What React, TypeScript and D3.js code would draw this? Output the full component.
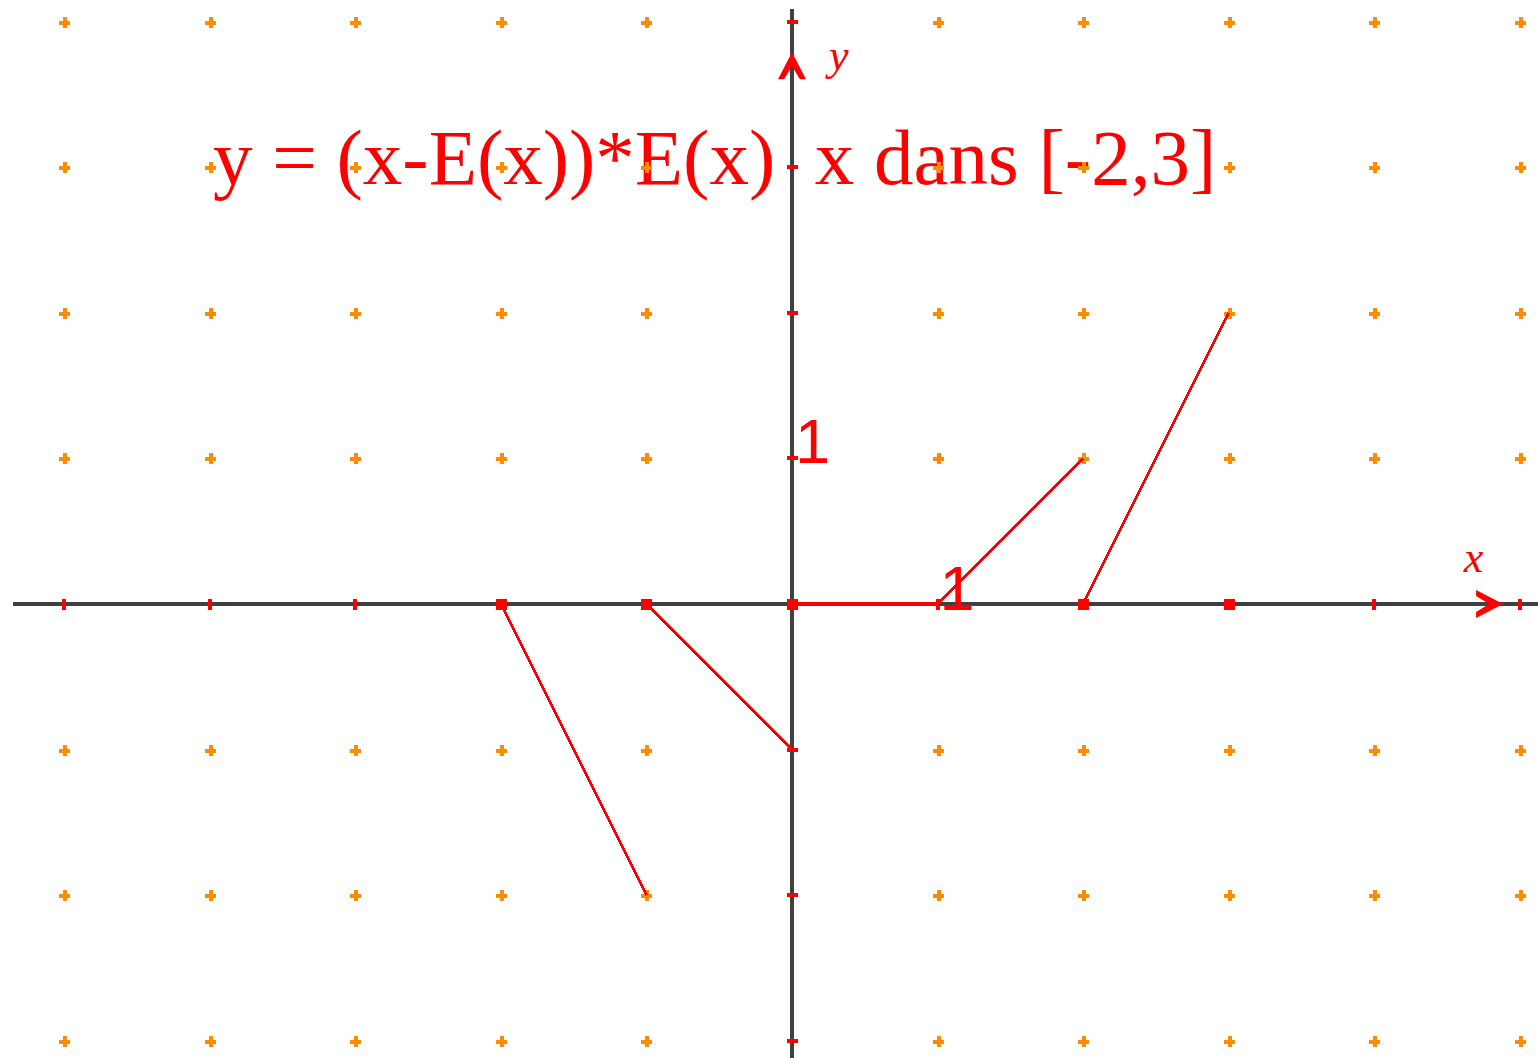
import React from "react";
import * as d3 from "d3";

// Graph of y = (x - E(x)) * E(x) on [-2, 3]
const W = 1538;
const H = 1058;

// Integer grid shown by the orange crosses and the axis ticks
const gridX = [-5, -4, -3, -2, -1, 0, 1, 2, 3, 4, 5];
const gridY = [-3, -2, -1, 0, 1, 2, 3, 4];

// Visible extent of the axes (in graph units)
const axisXRange = [-5.35, 5.3];
const axisYRange = [-3.15, 4.09];
const arrowTipX = 4.885;
const arrowTipY = 3.79;

// Pieces of the curve: start (x0, y0) -> end (x1, y1)
const segX0 = [-2, -1, 0, 1, 2];
const segY0 = [0, 0, 0, 0, 0];
const segX1 = [-1, 0, 1, 2, 3];
const segY1 = [-2, -1, 0, 1, 2];

// Closed endpoints (filled squares)
const dotX = [-2, -1, 0, 2, 3];
const dotY = [0, 0, 0, 0, 0];

// Unit labels
const unitLabelX = [{ v: 1, text: "1" }];
const unitLabelY = [{ v: 1, text: "1" }];

const title = "y = (x-E(x))*E(x)  x dans [-2,3]";

const UNIT = 145.57;
const ORIGIN_X = 792;
const ORIGIN_Y = 604;

const RED = "#ff0000";
const ORANGE = "#ff8c00";
const AXIS = "#404040";

export default function App() {
  const x = d3.scaleLinear().domain([0, 1]).range([ORIGIN_X, ORIGIN_X + UNIT]);
  const y = d3.scaleLinear().domain([0, 1]).range([ORIGIN_Y, ORIGIN_Y - UNIT]);
  const line = d3
    .line<[number, number]>()
    .x((d) => x(d[0]))
    .y((d) => y(d[1]));

  const crosses: { cx: number; cy: number; key: string }[] = [];
  gridX.forEach((gx) =>
    gridY.forEach((gy) => {
      if (gx !== 0 && gy !== 0) {
        crosses.push({ cx: Math.round(x(gx)), cy: Math.round(y(gy)), key: `${gx}_${gy}` });
      }
    })
  );

  const x0 = x(0);
  const y0 = y(0);
  const tipX = x(arrowTipX);
  const tipY = y(arrowTipY);

  // Arrowheads: short filled point with two diverging barbs
  const yArrow = `M${x0},${tipY} L${x0 + 14},${tipY + 27} L${x0 + 8},${tipY + 27} L${x0},${tipY + 14} L${x0 - 8},${tipY + 27} L${x0 - 14},${tipY + 27} Z`;
  const xArrow = `M${tipX},${y0} L${tipX - 27},${y0 - 14} L${tipX - 27},${y0 - 8} L${tipX - 14},${y0} L${tipX - 27},${y0 + 8} L${tipX - 27},${y0 + 14} Z`;

  return (
    <svg
      width={W}
      height={H}
      style={{ position: "absolute", left: 0, top: 0, background: "#fff" }}
    >
      <rect x={0} y={0} width={W} height={H} fill="#fff" />

      {/* title */}
      <text
        x={213}
        y={184}
        fill={RED}
        fontFamily="'Liberation Serif', 'Times New Roman', serif"
        fontSize={79}
        style={{ whiteSpace: "pre" }}
      >
        {title}
      </text>

      {/* grid crosses */}
      <g fill={ORANGE} shapeRendering="crispEdges">
        {crosses.map((c) => (
          <g key={c.key}>
            <rect x={c.cx - 5.5} y={c.cy - 1.5} width={11} height={4} />
            <rect x={c.cx - 1.5} y={c.cy - 5.5} width={4} height={11} />
          </g>
        ))}
      </g>

      {/* axes */}
      <g stroke={AXIS} strokeWidth={4} shapeRendering="crispEdges">
        <line x1={x(axisXRange[0])} x2={x(axisXRange[1])} y1={y0} y2={y0} />
        <line x1={x0} x2={x0} y1={y(axisYRange[1])} y2={y(axisYRange[0])} />
      </g>

      {/* ticks */}
      <g fill={RED} shapeRendering="crispEdges">
        {gridX.map((v) => (
          <rect key={"tx" + v} x={Math.round(x(v)) - 2} y={y0 - 5} width={4} height={11} />
        ))}
        {gridY.map((v) => (
          <rect key={"ty" + v} x={x0 - 5} y={Math.round(y(v)) - 2} width={11} height={4} />
        ))}
      </g>

      {/* arrowheads */}
      <path d={yArrow} fill={RED} />
      <path d={xArrow} fill={RED} />

      {/* axis names */}
      <text
        x={x(0.254)}
        y={y(3.67)}
        fill={RED}
        fontFamily="'Liberation Serif', serif"
        fontStyle="italic"
        fontSize={44}
      >
        y
      </text>
      <text
        x={x(4.615)}
        y={y(0.22)}
        fill={RED}
        fontFamily="'Liberation Serif', serif"
        fontStyle="italic"
        fontSize={44}
      >
        x
      </text>

      {/* curve pieces */}
      <g stroke={RED} fill="none">
        {segX0.map((_, i) => {
          const flat = segY0[i] === segY1[i];
          return (
            <path
              key={"s" + i}
              d={line([
                [segX0[i], segY0[i]],
                [segX1[i], segY1[i]],
              ]) as string}
              strokeWidth={flat ? 4 : 2.8}
              shapeRendering="crispEdges"
            />
          );
        })}
      </g>

      {/* closed endpoints */}
      <g fill={RED} shapeRendering="crispEdges">
        {dotX.map((v, i) => (
          <rect
            key={"d" + i}
            x={Math.round(x(v)) - 5.5}
            y={Math.round(y(dotY[i])) - 5.5}
            width={11}
            height={11}
          />
        ))}
      </g>

      {/* unit labels */}
      {unitLabelY.map((l) => (
        <text
          key={"ly" + l.v}
          x={x0 + 3}
          y={y(l.v) + 5}
          fill={RED}
          fontFamily="'Liberation Sans', Arial, sans-serif"
          fontSize={63}
        >
          {l.text}
        </text>
      ))}
      {unitLabelX.map((l) => (
        <text
          key={"lx" + l.v}
          x={x(l.v) + 2}
          y={y0 + 6}
          fill={RED}
          fontFamily="'Liberation Sans', Arial, sans-serif"
          fontSize={63}
        >
          {l.text}
        </text>
      ))}
    </svg>
  );
}
